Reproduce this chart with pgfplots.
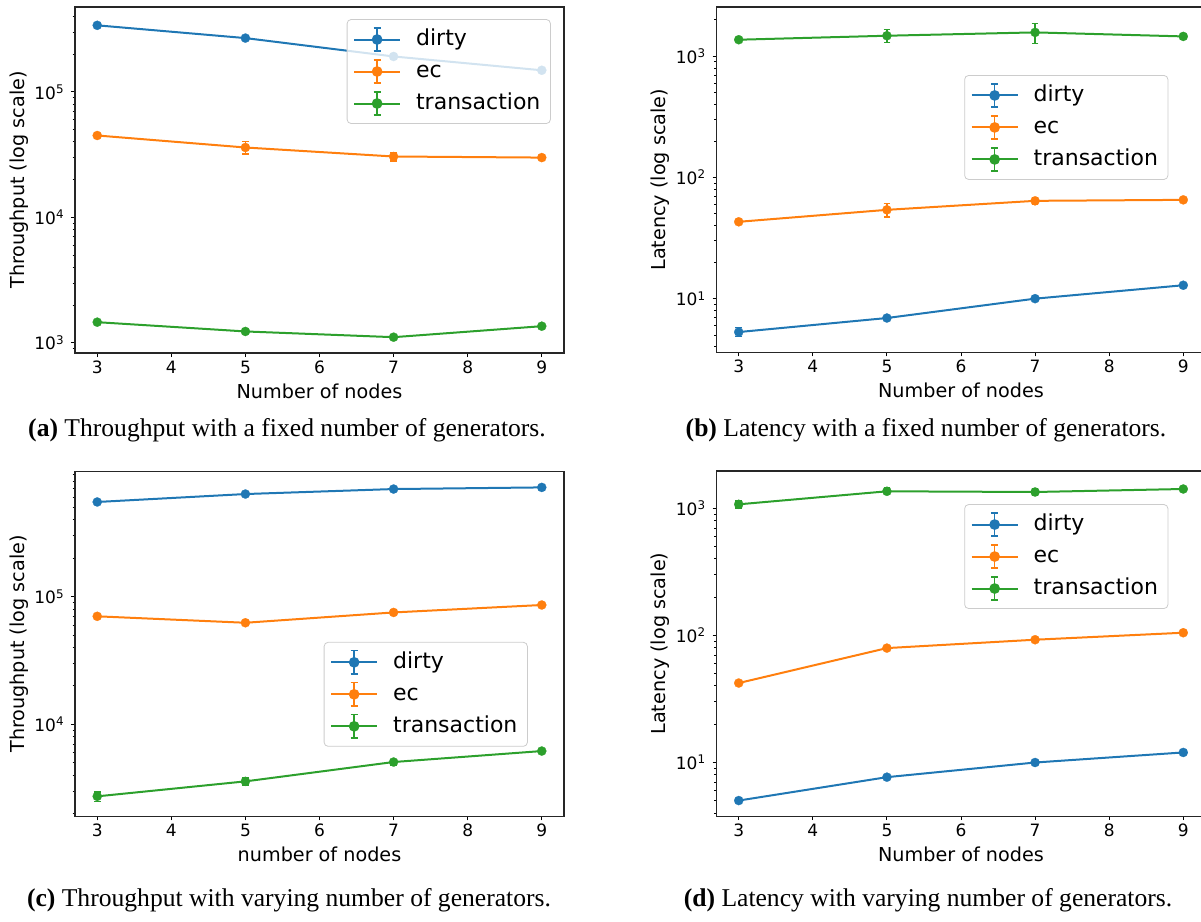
\documentclass[border=0pt]{standalone}
\usepackage{fontspec}
\setmainfont{DejaVu Sans}
\newfontfamily\capfont{Liberation Serif}
\usepackage{pgfplots}
\pgfplotsset{compat=1.18}
\definecolor{tabblue}{HTML}{1F77B4}
\definecolor{taborange}{HTML}{FF7F0E}
\definecolor{tabgreen}{HTML}{2CA02C}
\pgfplotsset{
 every axis/.append style={scale only axis, width=244.5pt, xmin=2.7, xmax=9.3,
   xtick={3,4,5,6,7,8,9}, xticklabels={3,4,5,6,7,8,9},
   tick align=outside, xtick pos=bottom, ytick pos=left,
   major tick length=2pt, minor tick length=1.2pt,
   tick style={black, line width=0.5pt},
   axis line style={black!85, line width=0.6pt},
   tick label style={font=\fontsize{8.5}{10}\selectfont},
   xticklabel style={anchor=base, yshift=-8pt},
   yticklabel style={anchor=east, inner xsep=0pt, xshift=-3pt},
   legend cell align=left,
   legend style={draw=black!20, rounded corners=2pt, fill=white, fill opacity=0.8, text opacity=1, draw opacity=1,
     font=\fontsize{11}{13}\selectfont, column sep=5.5pt, inner xsep=3pt, inner ysep=2pt,
     nodes={text height=8.5pt, text depth=2.5pt, inner ysep=2.5pt}}},
 every axis x label/.style={at={(axis description cs:0.5,0)}, anchor=base, yshift=-22.5pt, font=\fontsize{9.6}{11}\selectfont},
 every axis y label/.style={at={([xshift=-28pt]axis description cs:0,0.5)}, rotate=90, anchor=center, font=\fontsize{9.6}{11}\selectfont},
}
\pgfplotsset{
 ser/.style={color=#1, line width=1pt, mark=*, mark size=2.3pt,
   mark options={solid, fill=#1, draw=#1, line width=0.1pt, mark size=2.3pt},
   error bars/y dir=both, error bars/y explicit,
   error bars/error bar style={line width=0.7pt, color=#1},
   error bars/error mark options={rotate=90, mark size=1.7pt, line width=0.7pt, color=#1}},
 leg/.style={legend image code/.code={
     \draw[#1, line width=1pt, draw opacity=1] (0pt,0pt) -- (23pt,0pt);
     \draw[#1, line width=0.7pt, draw opacity=1] (11.5pt,-5.8pt) -- (11.5pt,5.8pt);
     \draw[#1, line width=0.7pt, draw opacity=1] (9.8pt,-5.8pt) -- (13.2pt,-5.8pt);
     \draw[#1, line width=0.7pt, draw opacity=1] (9.8pt,5.8pt) -- (13.2pt,5.8pt);
     \fill[#1, fill opacity=1] (11.5pt,0pt) circle (2.15pt);}},
}
\begin{document}
\begin{tikzpicture}
\useasboundingbox (0,0) rectangle (600.5pt,-461pt);
% (a)
\begin{axis}[ymode=log, height=173pt, at={(37.5pt,-3.5pt)}, anchor=north west,
  ymin=830, ymax=4.76e5,
  ytick={1e3,1e4,1e5}, yticklabels={10\textsuperscript{3},10\textsuperscript{4},10\textsuperscript{5}},
  minor ytick={900,2000,3000,4000,5000,6000,7000,8000,9000,20000,30000,40000,50000,60000,70000,80000,90000,200000,300000,400000},
  xlabel={Number of nodes}, ylabel={Throughput (log scale)},
  legend style={at={(0.973,0.965)}, anchor=north east}]
\addplot[ser=tabblue, leg=tabblue] coordinates {(3,3.40e5) +- (0,0) (5,2.69e5) +- (0,0) (7,1.92e5) +- (0,0) (9,1.49e5) +- (0,0)};
\addlegendentry{dirty}
\addplot[ser=taborange, leg=taborange] coordinates {(3,4.50e4) +- (0,500) (5,3.61e4) +- (0,4000) (7,3.06e4) +- (0,2500) (9,3.00e4) +- (0,500)};
\addlegendentry{ec}
\addplot[ser=tabgreen, leg=tabgreen] coordinates {(3,1462) +- (0,20) (5,1233) +- (0,20) (7,1110) +- (0,40) (9,1358) +- (0,50)};
\addlegendentry{transaction}
\end{axis}
% (b)
\begin{axis}[ymode=log, height=172.7pt, at={(358.25pt,-3.5pt)}, anchor=north west,
  ymin=3.6, ymax=2557,
  ytick={10,100,1000}, yticklabels={10\textsuperscript{1},10\textsuperscript{2},10\textsuperscript{3}},
  minor ytick={4,5,6,7,8,9,20,30,40,50,60,70,80,90,200,300,400,500,600,700,800,900,2000},
  xlabel={Number of nodes}, ylabel={Latency (log scale)},
  legend style={at={(0.924,0.803)}, anchor=north east}]
\addplot[ser=tabblue, leg=tabblue] coordinates {(3,5.3) +- (0,0.45) (5,6.92) +- (0,0.2) (7,10.0) +- (0,0.2) (9,12.9) +- (0,0.3)};
\addlegendentry{dirty}
\addplot[ser=taborange, leg=taborange] coordinates {(3,43.1) +- (0,1) (5,54.1) +- (0,7) (7,64.2) +- (0,4) (9,65.4) +- (0,2)};
\addlegendentry{ec}
\addplot[ser=tabgreen, leg=tabgreen] coordinates {(3,1373) +- (0,40) (5,1481) +- (0,180) (7,1578) +- (0,300) (9,1462) +- (0,50)};
\addlegendentry{transaction}
\end{axis}
% (c)
\begin{axis}[ymode=log, height=172.3pt, at={(37.5pt,-235.85pt)}, anchor=north west,
  ymin=1905, ymax=9.53e5,
  ytick={1e4,1e5}, yticklabels={10\textsuperscript{4},10\textsuperscript{5}},
  minor ytick={2000,3000,4000,5000,6000,7000,8000,9000,20000,30000,40000,50000,60000,70000,80000,90000,200000,300000,400000,500000,600000,700000,800000,900000},
  xlabel={number of nodes}, ylabel={Throughput (log scale)},
  legend style={at={(0.926,0.506)}, anchor=north east}]
\addplot[ser=tabblue, leg=tabblue] coordinates {(3,5.52e5) +- (0,0) (5,6.37e5) +- (0,0) (7,6.97e5) +- (0,0) (9,7.18e5) +- (0,0)};
\addlegendentry{dirty}
\addplot[ser=taborange, leg=taborange] coordinates {(3,7.02e4) +- (0,0) (5,6.25e4) +- (0,0) (7,7.53e4) +- (0,0) (9,8.61e4) +- (0,0)};
\addlegendentry{ec}
\addplot[ser=tabgreen, leg=tabgreen] coordinates {(3,2730) +- (0,230) (5,3577) +- (0,230) (7,5070) +- (0,250) (9,6180) +- (0,150)};
\addlegendentry{transaction}
\end{axis}
% (d)
\begin{axis}[ymode=log, height=172.6pt, at={(358.25pt,-235.5pt)}, anchor=north west,
  ymin=3.78, ymax=1966,
  ytick={10,100,1000}, yticklabels={10\textsuperscript{1},10\textsuperscript{2},10\textsuperscript{3}},
  minor ytick={4,5,6,7,8,9,20,30,40,50,60,70,80,90,200,300,400,500,600,700,800,900},
  xlabel={Number of nodes}, ylabel={Latency (log scale)},
  legend style={at={(0.924,0.904)}, anchor=north east}]
\addplot[ser=tabblue, leg=tabblue] coordinates {(3,5.02) +- (0,0.1) (5,7.67) +- (0,0.2) (7,10.0) +- (0,0.2) (9,12.0) +- (0,0.2)};
\addlegendentry{dirty}
\addplot[ser=taborange, leg=taborange] coordinates {(3,42.2) +- (0,1) (5,79.5) +- (0,2) (7,92.5) +- (0,2) (9,105) +- (0,2)};
\addlegendentry{ec}
\addplot[ser=tabgreen, leg=tabgreen] coordinates {(3,1075) +- (0,70) (5,1361) +- (0,80) (7,1344) +- (0,70) (9,1419) +- (0,40)};
\addlegendentry{transaction}
\end{axis}
% captions
\node[anchor=base, font=\capfont\fontsize{12.8}{14}\selectfont] at (143.5pt,-218pt) {\textbf{(a)} Throughput with a fixed number of generators.};
\node[anchor=base, font=\capfont\fontsize{12.8}{14}\selectfont] at (463pt,-218pt) {\textbf{(b)} Latency with a fixed number of generators.};
\node[anchor=base, font=\capfont\fontsize{12.8}{14}\selectfont] at (144.5pt,-453pt) {\textbf{(c)} Throughput with varying number of generators.};
\node[anchor=base, font=\capfont\fontsize{12.8}{14}\selectfont] at (464pt,-453pt) {\textbf{(d)} Latency with varying number of generators.};
\end{tikzpicture}
\end{document}
